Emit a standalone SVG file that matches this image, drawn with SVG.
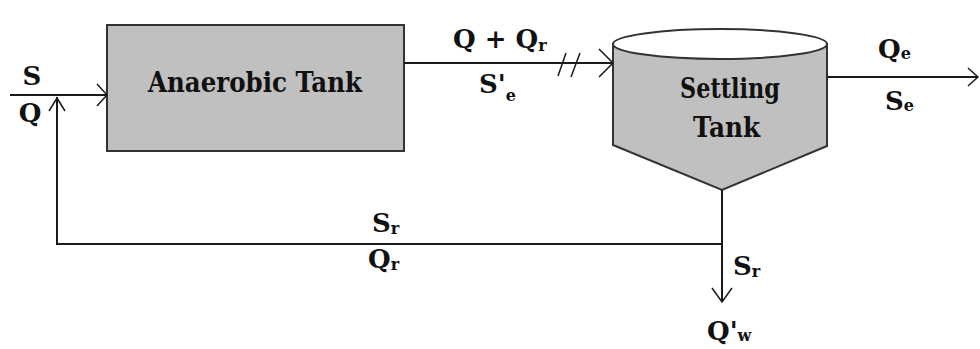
<svg xmlns="http://www.w3.org/2000/svg" width="980" height="349" viewBox="0 0 980 349">
<style>
.ln{stroke:#1a1a1a;stroke-width:2;fill:none}
.ah{stroke:#1a1a1a;stroke-width:1.5;fill:none}
.tk{fill:#c0c0c0;stroke:#333;stroke-width:2}
.tx{font-family:"DejaVu Serif",serif;font-weight:bold;fill:#111}
.lb{font-size:26px}
.nm{font-size:28px}
.sb{font-size:16px}
</style>
<rect width="980" height="349" fill="#fff"/>
<g id="anaerobic-tank">
<rect class="tk" x="107" y="25" width="297" height="126"/>
<text class="tx nm" x="148" y="92" textLength="214" lengthAdjust="spacingAndGlyphs">Anaerobic Tank</text>
</g>
<g id="settling-tank">
<path class="tk" d="M613,44 L613,145 L722,190 L827,146 L827,44 Z"/>
<ellipse cx="720" cy="44" rx="107" ry="15" fill="#fff" stroke="#333" stroke-width="2"/>
<text class="tx nm" x="680" y="98" textLength="100" lengthAdjust="spacingAndGlyphs">Settling</text>
<text class="tx nm" x="693" y="137" textLength="67" lengthAdjust="spacingAndGlyphs">Tank</text>
</g>
<g id="connectors">
<path class="ln" d="M10,95 H107"/>
<path class="ah" d="M97,84 L107,95 L97,106"/>
<path class="ln" d="M404,63 H613"/>
<path class="ah" d="M599,49 L613,63 L599,77"/>
<path class="ah" d="M558,76 L566,53 M571,77 L580,53"/>
<path class="ln" d="M827,77 H978"/>
<path class="ah" d="M968,68 L978,77 L968,86"/>
<path class="ln" d="M722,190 V302"/>
<path class="ah" d="M712,288 L722,302 L732,288"/>
<path class="ln" d="M722,244 H57 V97"/>
<path class="ah" d="M49,111 L57,98 L65,111"/>
</g>
<g id="labels">
<text class="tx lb" x="32" y="85" text-anchor="middle">S</text>
<text class="tx lb" x="30" y="122" text-anchor="middle">Q</text>
<text class="tx lb" x="453" y="48">Q + Q<tspan class="sb" dy="3">r</tspan></text>
<text class="tx lb" x="479" y="93">S'<tspan class="sb" dy="8">e</tspan></text>
<text class="tx lb" x="878" y="58">Q<tspan class="sb" dy="1">e</tspan></text>
<text class="tx lb" x="885" y="110">S<tspan class="sb" dy="1">e</tspan></text>
<text class="tx lb" x="372" y="232">S<tspan class="sb" dy="2">r</tspan></text>
<text class="tx lb" x="368" y="268">Q<tspan class="sb" dy="2">r</tspan></text>
<text class="tx lb" x="733" y="275">S<tspan class="sb" dy="2">r</tspan></text>
<text class="tx lb" x="707" y="340">Q'<tspan class="sb" dy="1">w</tspan></text>
</g>
</svg>
